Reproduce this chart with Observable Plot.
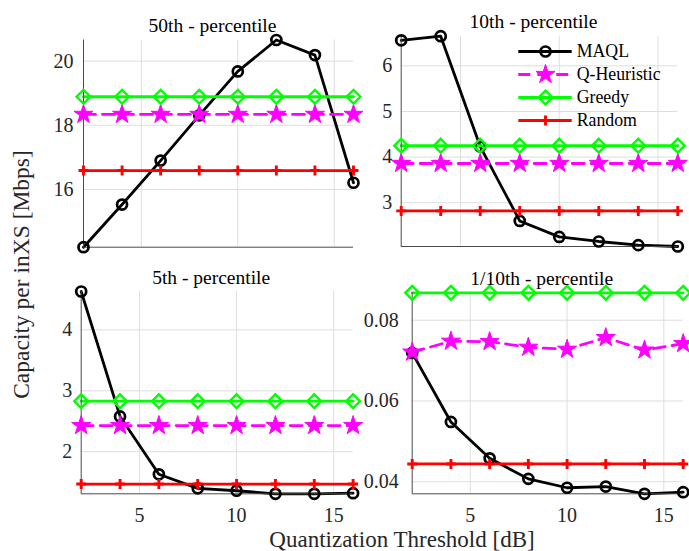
<!DOCTYPE html>
<html><head><meta charset="utf-8">
<script src="https://cdn.jsdelivr.net/npm/d3@7"></script>
<script src="https://cdn.jsdelivr.net/npm/@observablehq/plot@0.6"></script>
<style>
body{margin:0;background:#fff;}
#chart{position:relative;width:689px;height:551px;background:#fff;}
#chart svg{position:absolute;left:0;top:0;}
#chart svg, #chart svg text{font-family:"Liberation Serif","Times New Roman",serif !important;}
</style></head><body><div id="chart"></div>
<script>
// ---------- data ----------
const thresholds = [2, 4, 6, 8, 10, 12, 14, 16];
const seriesNames = ["MAQL", "Q-Heuristic", "Greedy", "Random"];
const xTicks = [5, 10, 15];

const p50MAQL   = [14.20, 15.53, 16.90, 18.31, 19.68, 20.66, 20.19, 16.21];
const p50QHeur  = [18.34, 18.34, 18.34, 18.34, 18.34, 18.34, 18.34, 18.34];
const p50Greedy = [18.89, 18.89, 18.89, 18.89, 18.89, 18.89, 18.89, 18.89];
const p50Random = [16.59, 16.59, 16.59, 16.59, 16.59, 16.59, 16.59, 16.59];
const p50Ticks  = [16, 18, 20];

const p10MAQL   = [6.56, 6.65, 4.23, 2.60, 2.25, 2.15, 2.07, 2.04];
const p10QHeur  = [3.86, 3.86, 3.86, 3.86, 3.86, 3.86, 3.86, 3.86];
const p10Greedy = [4.25, 4.25, 4.25, 4.25, 4.25, 4.25, 4.25, 4.25];
const p10Random = [2.82, 2.82, 2.82, 2.82, 2.82, 2.82, 2.82, 2.82];
const p10Ticks  = [3, 4, 5, 6];

const p5MAQL   = [4.63, 2.58, 1.63, 1.40, 1.36, 1.31, 1.31, 1.32];
const p5QHeur  = [2.43, 2.43, 2.43, 2.43, 2.43, 2.43, 2.43, 2.43];
const p5Greedy = [2.83, 2.83, 2.83, 2.83, 2.83, 2.83, 2.83, 2.83];
const p5Random = [1.47, 1.47, 1.47, 1.47, 1.47, 1.47, 1.47, 1.47];
const p5Ticks  = [2, 3, 4];

const p01MAQL   = [0.0719, 0.0548, 0.0458, 0.0407, 0.0385, 0.0388, 0.0370, 0.0374];
const p01QHeur  = [0.0721, 0.0748, 0.0747, 0.0733, 0.0728, 0.0757, 0.0726, 0.0742];
const p01Greedy = [0.0868, 0.0868, 0.0868, 0.0868, 0.0868, 0.0868, 0.0868, 0.0868];
const p01Random = [0.0444, 0.0444, 0.0444, 0.0444, 0.0444, 0.0444, 0.0444, 0.0444];
const p01Ticks  = [0.04, 0.06, 0.08];

const titles = ["50th - percentile", "10th - percentile", "5th - percentile", "1/10th - percentile"];
const yLabel = "Capacity per inXS [Mbps]";
const xLabel = "Quantization Threshold [dB]";

// ---------- styling ----------
const W = 689, H = 551;
const FONT = "Liberation Serif";
const AXIS = "#4a4a4a", GRID = "#dedede", TXT = "#262626";
const sty = {
  "MAQL":        {stroke: "#000000", symbol: "circle",   r: 5,   fill: "none",    dash: null,   mw: 2.7},
  "Q-Heuristic": {stroke: "#ff00ff", symbol: "star",     r: 6,   fill: "#ff00ff", dash: "12,7", mw: 1},
  "Greedy":      {stroke: "#00ff00", symbol: "diamond2", r: 6.2, fill: "none",    dash: null,   mw: 2.4},
  "Random":      {stroke: "#ff0000", symbol: "plus",     r: 3.3, fill: "none",    dash: null,   mw: 2.9}
};
const LW = 2.8;

function panel({title, series, yTicks, fmt, frame, showX, tickPad}) {
  const rows = [];
  seriesNames.forEach((name, k) => series[k].forEach((v, i) => rows.push({name, x: thresholds[i], y: v})));
  const ext = d3.extent(rows, d => d.y);
  const marks = [
    Plot.gridX(xTicks, {stroke: GRID, strokeOpacity: 1, strokeWidth: 1}),
    Plot.gridY(yTicks, {stroke: GRID, strokeOpacity: 1, strokeWidth: 1}),
    Plot.axisY(yTicks, {tickSize: 0, tickPadding: tickPad, tickFormat: fmt, fontSize: 20, fontFamily: FONT, fill: TXT, label: null}),
    showX ? Plot.axisX(xTicks, {tickSize: 0, tickPadding: 13.5, fontSize: 20, fontFamily: FONT, fill: TXT, label: null}) : null,
  ];
  for (const name of seriesNames) {
    const s = sty[name];
    const data = rows.filter(d => d.name === name);
    marks.push(Plot.line(data, {x: "x", y: "y", stroke: s.stroke, strokeWidth: LW, strokeDasharray: s.dash}));
  }
  marks.push(Plot.ruleX([2], {stroke: AXIS, strokeWidth: 1}));
  marks.push(Plot.ruleY([ext[0]], {stroke: AXIS, strokeWidth: 1}));
  for (const name of seriesNames) {
    const s = sty[name];
    const data = rows.filter(d => d.name === name);
    marks.push(Plot.dot(data, {x: "x", y: "y", symbol: s.symbol, r: s.r, stroke: s.stroke, fill: s.fill, strokeWidth: s.mw}));
  }
  marks.push(Plot.text([title], {frameAnchor: "top", textAnchor: "middle", lineAnchor: "bottom", dy: -8, dx: -6, fontSize: 19.5, fontFamily: FONT, fill: "#000"}));
  return Plot.plot({
    width: W, height: H,
    marginLeft: frame[0], marginRight: W - frame[1], marginTop: frame[2], marginBottom: H - frame[3],
    x: {domain: [2, 16], axis: null},
    y: {domain: ext, axis: null},
    style: {fontFamily: FONT, fontSize: "20px", background: "transparent", color: TXT},
    marks
  });
}

const chart = document.getElementById("chart");
chart.append(panel({title: titles[0], series: [p50MAQL, p50QHeur, p50Greedy, p50Random], yTicks: p50Ticks, fmt: d3.format("d"),
  frame: [83, 353, 39.5, 246.7], showX: false, tickPad: 10}));
chart.append(panel({title: titles[1], series: [p10MAQL, p10QHeur, p10Greedy, p10Random], yTicks: p10Ticks, fmt: d3.format("d"),
  frame: [400.7, 677.3, 35.7, 246], showX: false, tickPad: 9}));
chart.append(panel({title: titles[2], series: [p5MAQL, p5QHeur, p5Greedy, p5Random], yTicks: p5Ticks, fmt: d3.format("d"),
  frame: [80.7, 352.6, 291, 493.3], showX: true, tickPad: 9}));
chart.append(panel({title: titles[3], series: [p01MAQL, p01QHeur, p01Greedy, p01Random], yTicks: p01Ticks, fmt: d3.format(".2f"),
  frame: [411.7, 682.7, 292.3, 493.3], showX: true, tickPad: 13.5}));

// ---------- legend + shared labels ----------
const legendMarks = [];
for (const name of seriesNames) {
  const s = sty[name];
  legendMarks.push(Plot.ruleY([name], {y: d => d, x1: 0, x2: 1, stroke: s.stroke, strokeWidth: LW, strokeDasharray: s.dash}));
  legendMarks.push(Plot.dot([name], {y: d => d, x: 0.5, symbol: s.symbol, r: s.r, stroke: s.stroke, fill: s.fill, strokeWidth: s.mw}));
}
legendMarks.push(Plot.text(seriesNames, {y: d => d, x: 1, dx: 4.5, textAnchor: "start", lineAnchor: "middle", fontSize: 17.8, fontFamily: FONT, fill: "#000"}));
legendMarks.push(Plot.text([yLabel], {frameAnchor: "left", textAnchor: "middle", dx: 28.2, dy: -1.5, rotate: -90, lineAnchor: "bottom", fontSize: 23.5, fontFamily: FONT, fill: TXT}));
legendMarks.push(Plot.text([xLabel], {frameAnchor: "bottom", textAnchor: "middle", dx: 57, dy: -4.7, lineAnchor: "bottom", fontSize: 23, fontFamily: FONT, fill: TXT}));

chart.append(Plot.plot({
  width: W, height: H, margin: 0,
  x: {domain: [0, 1], range: [518.3, 571.7], axis: null},
  y: {type: "point", domain: seriesNames, range: [50, 120], padding: 0, axis: null},
  style: {fontFamily: FONT, background: "transparent"},
  marks: legendMarks
}));
</script>
</body></html>
